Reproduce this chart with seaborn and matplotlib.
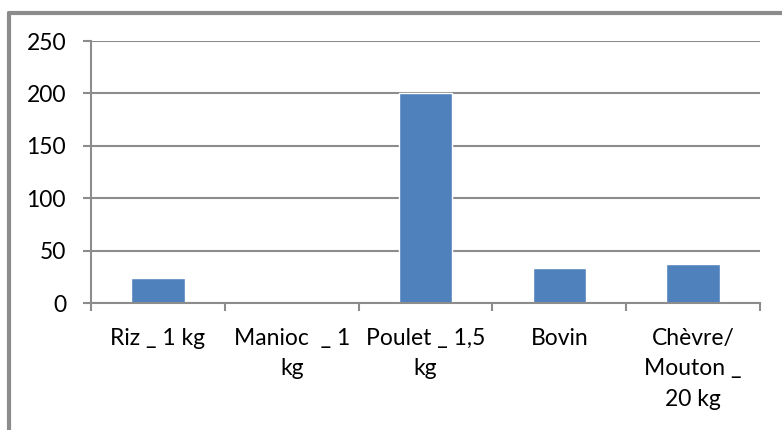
import matplotlib
matplotlib.use("Agg")
import matplotlib.pyplot as plt
import seaborn as sns
import pandas as pd
from matplotlib.lines import Line2D

categories = ["Riz _ 1 kg", "Manioc  _ 1\nkg", "Poulet _ 1,5\nkg", "Bovin", "Chèvre/\nMouton _\n20 kg"]
values = [24, 0, 200, 33, 37]
yticks = [0, 50, 100, 150, 200, 250]

sns.set_theme(style="white")
plt.rcParams['font.family'] = ['Lato', 'DejaVu Sans']

df = pd.DataFrame({"cat": categories, "val": values})

fig = plt.figure(figsize=(7.82, 4.30), dpi=100)
ax = fig.add_axes([91/782, 1 - 303/430, (760 - 91)/782, (303 - 41)/430])

sns.barplot(data=df, x="cat", y="val", color="#4F81BD", width=0.4, ax=ax, saturation=1)

ax.set_ylim(0, 250)
ax.set_xlim(-0.5, len(categories) - 0.5)
ax.set_yticks(yticks)
ax.set_yticklabels([str(t) for t in yticks], fontsize=16.5, color="black")
ax.set_xlabel("")
ax.set_ylabel("")
ax.grid(axis="y", color="#8C8C8C", linewidth=1.5)
ax.set_axisbelow(True)
for s in ["top", "right"]:
    ax.spines[s].set_visible(False)
for s in ["left", "bottom"]:
    ax.spines[s].set_color("#8C8C8C")
    ax.spines[s].set_linewidth(1.5)

ax.set_xticks([i - 0.5 for i in range(len(categories) + 1)], minor=False)
ax.set_xticklabels([])
ax.set_xticks(range(len(categories)), minor=True)
ax.set_xticklabels(categories, minor=True, fontsize=16.5, color="black", linespacing=1.55, va="top")
ax.tick_params(axis="x", which="major", length=6, width=1.5, color="#8C8C8C", direction="out", bottom=True)
ax.tick_params(axis="x", which="minor", length=0, pad=18)
ax.tick_params(axis="y", length=6, width=1.5, color="#8C8C8C", direction="out", left=True, pad=12)

# outer border (top and left)
fig.add_artist(Line2D([9/782, 1], [1 - 13/430, 1 - 13/430], transform=fig.transFigure, color="#8C8C8C", linewidth=3))
fig.add_artist(Line2D([9/782, 9/782], [0, 1 - 13/430], transform=fig.transFigure, color="#8C8C8C", linewidth=3))

fig.savefig("out.png", dpi=100)
